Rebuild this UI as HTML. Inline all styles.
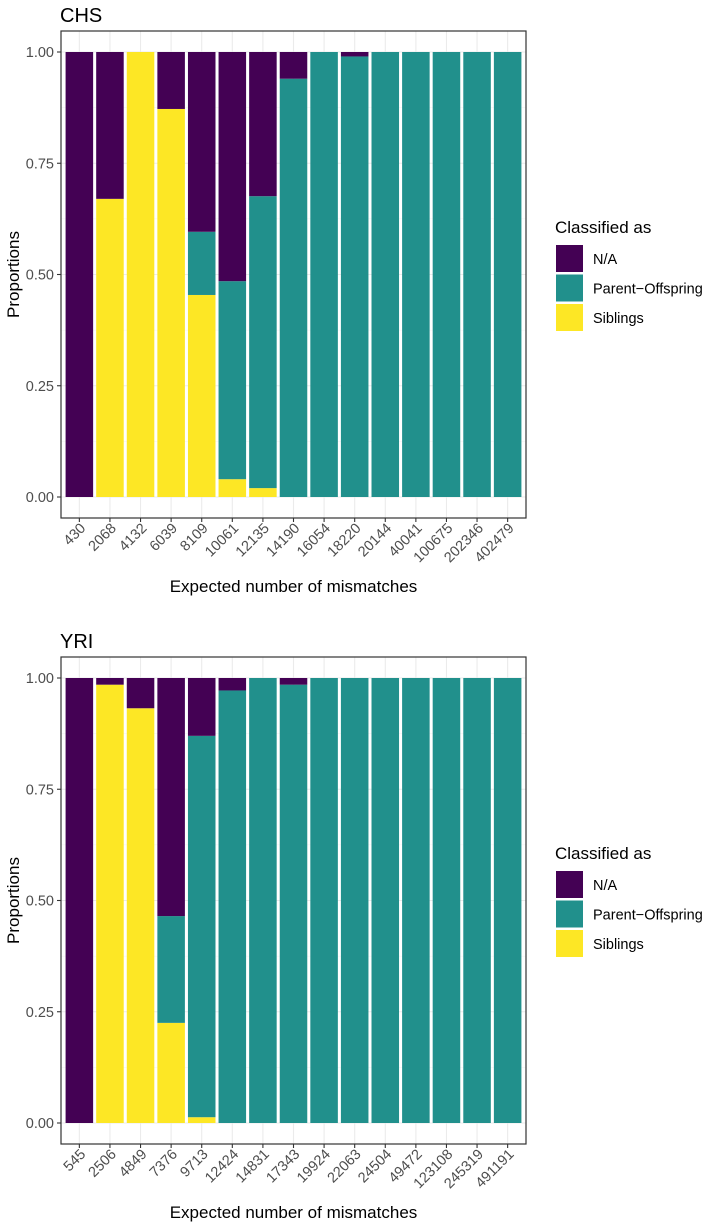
<!DOCTYPE html>
<html><head><meta charset="utf-8"><style>
body{margin:0;background:#fff;}
svg{display:block;font-family:"Liberation Sans",Arial,sans-serif;}
</style></head><body>
<svg id="chart" width="708" height="1222" viewBox="0 0 708 1222"></svg>
<script>
const chsCategories=["430","2068","4132","6039","8109","10061","12135","14190","16054","18220","20144","40041","100675","202346","402479"];
const chsSiblings=[0,0.67,1,0.872,0.454,0.04,0.02,0,0,0,0,0,0,0,0];
const chsParent=[0,0,0,0,0.142,0.445,0.656,0.94,1,0.99,1,1,1,1,1];
const yriCategories=["545","2506","4849","7376","9713","12424","14831","17343","19924","22063","24504","49472","123108","245319","491191"];
const yriSiblings=[0,0.985,0.932,0.225,0.013,0,0,0,0,0,0,0,0,0,0];
const yriParent=[0,0,0,0.24,0.857,0.972,1,0.985,1,1,1,1,1,1,1];
const yTicks=[0,0.25,0.5,0.75,1];
const yTickLabels=["0.00","0.25","0.50","0.75","1.00"];
const legendLabels=["N/A","Parent\u2212Offspring","Siblings"];
const colors={na:"#440154",po:"#21908C",sib:"#FDE725"};
const NS="http://www.w3.org/2000/svg";
const svg=document.getElementById('chart');
function mk(tag,attrs,parent,text){const e=document.createElementNS(NS,tag);for(const k in attrs)e.setAttribute(k,attrs[k]);if(text!==undefined)e.textContent=text;(parent||svg).appendChild(e);return e;}

function panel(title,cats,sib,par,offY,key){
  const g=mk('g',{});
  
  
  const L=61,R=526,T=31+offY,B=518+offY;
  const yS=v=>497+offY-v*445;
  const n=cats.length,unit=(R-L)/(n+0.2);
  const xS=i=>L+(0.6+i)*unit;
  const t=mk('text',{x:60,y:22+offY,'font-size':20,fill:'#000'},g,title);
  
  
  for(let v=0.125;v<1;v+=0.25) mk('line',{x1:L,x2:R,y1:yS(v),y2:yS(v),stroke:'#f2f2f2','stroke-width':0.6},g);
  yTicks.forEach(v=>mk('line',{x1:L,x2:R,y1:yS(v),y2:yS(v),stroke:'#ebebeb','stroke-width':1.1},g));
  cats.forEach((c,i)=>mk('line',{x1:xS(i),x2:xS(i),y1:T,y2:B,stroke:'#ebebeb','stroke-width':1.1},g));
  const bw=unit*0.9;
  cats.forEach((c,i)=>{
    const x=xS(i)-bw/2;
    const segs=[[0,sib[i],colors.sib,'siblings'],[sib[i],sib[i]+par[i],colors.po,'parent-offspring'],[sib[i]+par[i],1,colors.na,'na']];
    segs.forEach(s=>{
      if(s[1]-s[0]<=0.0001)return;
      const r=mk('rect',{x:x,y:yS(s[1]),width:bw,height:yS(s[0])-yS(s[1]),fill:s[2]},g);
      
      
    });
  });
  mk('rect',{x:L,y:T,width:R-L,height:B-T,fill:'none',stroke:'#333','stroke-width':1.2},g);
  yTicks.forEach((v,i)=>{
    mk('line',{x1:L-4,x2:L,y1:yS(v),y2:yS(v),stroke:'#333','stroke-width':1.1},g);
    const tl=mk('text',{x:L-7,y:yS(v)+5,'text-anchor':'end','font-size':14.5,fill:'#4d4d4d'},g,yTickLabels[i]);
    
    
  });
  cats.forEach((c,i)=>{
    mk('line',{x1:xS(i),x2:xS(i),y1:B,y2:B+4,stroke:'#333','stroke-width':1.1},g);
    const tl=mk('text',{x:0,y:0,'text-anchor':'end','font-size':14.5,fill:'#4d4d4d',transform:`translate(${xS(i)+7},${B+11}) rotate(-45)`},g,c);
    
    
  });
  const xt=mk('text',{x:(L+R)/2,y:592+offY,'text-anchor':'middle','font-size':17,fill:'#000'},g,'Expected number of mismatches');
  
  
  const yt=mk('text',{x:0,y:0,'text-anchor':'middle','font-size':17,fill:'#000',transform:`translate(19,${(T+B)/2}) rotate(-90)`},g,'Proportions');
  
  
  const lg=mk('g',{},g);
  
  
  mk('text',{x:555,y:233+offY,'font-size':17,fill:'#000'},lg,'Classified as');
  const lc=[colors.na,colors.po,colors.sib];
  legendLabels.forEach((lab,i)=>{
    const y=245+offY+i*29.5;
    const r=mk('rect',{x:556,y:y,width:27,height:27,fill:lc[i]},lg);
    
    
    const tx=mk('text',{x:593,y:y+19,'font-size':14.5,fill:'#000'},lg,lab);
    
    
  });
}
panel('CHS',chsCategories,chsSiblings,chsParent,0,'chs');
panel('YRI',yriCategories,yriSiblings,yriParent,626,'yri');
</script>
</body></html>
